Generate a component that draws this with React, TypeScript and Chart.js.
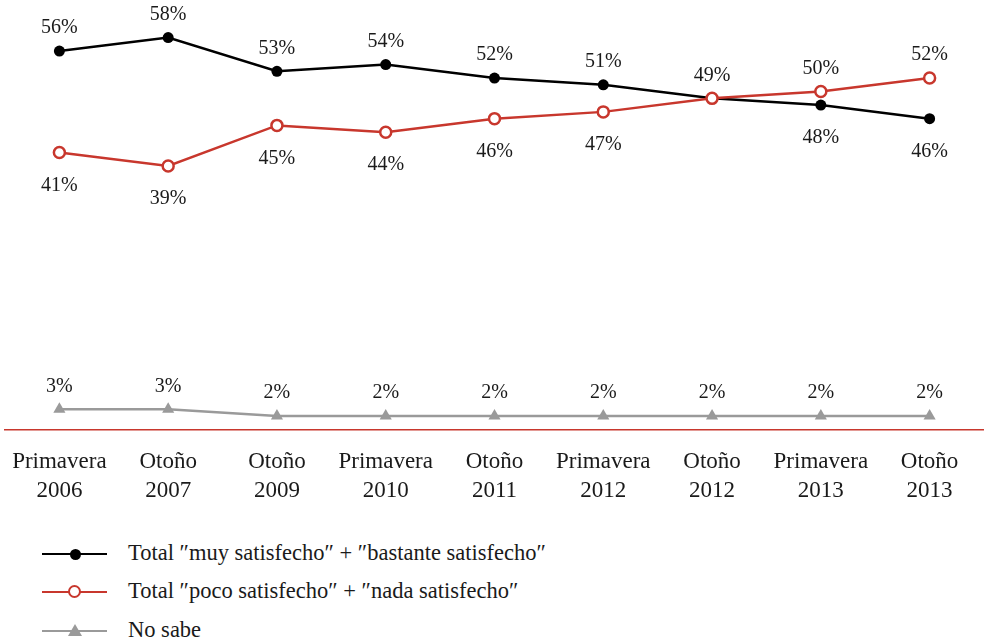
import React, { useEffect, useRef } from "react";
import { Chart, registerables } from "chart.js";

Chart.register(...registerables);

const categories: string[][] = [
  ["Primavera", "2006"],
  ["Otoño", "2007"],
  ["Otoño", "2009"],
  ["Primavera", "2010"],
  ["Otoño", "2011"],
  ["Primavera", "2012"],
  ["Otoño", "2012"],
  ["Primavera", "2013"],
  ["Otoño", "2013"],
];
const satisfied = [56, 58, 53, 54, 52, 51, 49, 48, 46];
const unsatisfied = [41, 39, 45, 44, 46, 47, 49, 50, 52];
const dontKnow = [3, 3, 2, 2, 2, 2, 2, 2, 2];

const seriesNames = [
  "Total ″muy satisfecho″ + ″bastante satisfecho″",
  "Total ″poco satisfecho″ + ″nada satisfecho″",
  "No sabe",
];

// label placement: a = above, b = below, n = none
const satisfiedPlace = ["a", "a", "a", "a", "a", "a", "n", "b", "b"];
const unsatisfiedPlace = ["b", "b", "b", "b", "b", "b", "a", "a", "a"];
const dontKnowPlace = ["a", "a", "a", "a", "a", "a", "a", "a", "a"];

const FONT = "'Liberation Serif', 'DejaVu Serif', serif";
const BLACK = "#000000";
const RED = "#c8372d";
const GREY = "#9a9a9a";
const TEXT = "#1a1a1a";

const labelPlugin = {
  id: "pointLabels",
  afterDatasetsDraw(chart: any) {
    const ctx = chart.ctx;
    ctx.save();
    ctx.font = `20px ${FONT}`;
    ctx.fillStyle = TEXT;
    ctx.textAlign = "center";
    ctx.textBaseline = "middle";
    chart.data.datasets.forEach((ds: any, di: number) => {
      const meta = chart.getDatasetMeta(di);
      const places: string[] = ds.labelPlaces;
      meta.data.forEach((pt: any, i: number) => {
        const p = places[i];
        if (p === "n") return;
        const dy = p === "a" ? -23 : 33;
        ctx.fillText(`${ds.data[i]}%`, pt.x, pt.y + dy);
      });
    });
    ctx.restore();
  },
};

function LegendRow({ kind, text, top }: { kind: string; text: string; top: number }) {
  const color = kind === "black" ? BLACK : kind === "red" ? RED : GREY;
  let marker: React.ReactNode;
  if (kind === "black") {
    marker = (
      <div style={{ position: "absolute", left: 69.5, top: -5.5, width: 11, height: 11, borderRadius: 6, background: BLACK }} />
    );
  } else if (kind === "red") {
    marker = (
      <div
        style={{
          position: "absolute",
          left: 68,
          top: -7,
          width: 9,
          height: 9,
          borderRadius: 7,
          background: "#fff",
          border: `2.5px solid ${RED}`,
        }}
      />
    );
  } else {
    marker = (
      <div
        style={{
          position: "absolute",
          left: 68,
          top: -7,
          width: 0,
          height: 0,
          borderLeft: "7px solid transparent",
          borderRight: "7px solid transparent",
          borderBottom: `12px solid ${GREY}`,
        }}
      />
    );
  }
  return (
    <div style={{ position: "absolute", left: 0, top, width: 984, height: 0 }}>
      <div style={{ position: "absolute", left: 42, top: -1.25, width: 65, height: 2.5, background: color }} />
      {marker}
      <div
        style={{
          position: "absolute",
          left: 128,
          top: -16,
          height: 30,
          lineHeight: "30px",
          fontFamily: FONT,
          fontSize: 22.5,
          color: TEXT,
          whiteSpace: "nowrap",
        }}
      >
        {text}
      </div>
    </div>
  );
}

export default function App() {
  const ref = useRef<HTMLCanvasElement | null>(null);

  useEffect(() => {
    document.body.style.margin = "0";
    const chart = new Chart(ref.current!, {
      type: "line",
      data: {
        labels: categories,
        datasets: [
          {
            label: seriesNames[0],
            data: satisfied,
            borderColor: BLACK,
            backgroundColor: BLACK,
            borderWidth: 2.5,
            pointRadius: 5.5,
            pointBorderWidth: 0,
            pointStyle: "circle",
            order: 1,
            labelPlaces: satisfiedPlace,
          } as any,
          {
            label: seriesNames[1],
            data: unsatisfied,
            borderColor: RED,
            backgroundColor: "#ffffff",
            pointBackgroundColor: "#ffffff",
            pointBorderColor: RED,
            borderWidth: 2.5,
            pointRadius: 5.5,
            pointBorderWidth: 2.5,
            pointStyle: "circle",
            order: 0,
            labelPlaces: unsatisfiedPlace,
          } as any,
          {
            label: seriesNames[2],
            data: dontKnow,
            borderColor: GREY,
            backgroundColor: GREY,
            borderWidth: 2.5,
            pointRadius: 7,
            pointBorderWidth: 0,
            pointStyle: "triangle",
            order: 2,
            labelPlaces: dontKnowPlace,
          } as any,
        ],
      },
      options: {
        animation: false,
        responsive: false,
        maintainAspectRatio: false,
        layout: { autoPadding: false, padding: { left: 5, right: 0, top: 24, bottom: 4 } },
        plugins: {
          legend: { display: false },
          tooltip: { enabled: false },
        },
        scales: {
          x: {
            offset: true,
            grid: {
              display: true,
              drawOnChartArea: false,
              drawTicks: true,
              tickLength: 7,
              color: "rgba(0,0,0,0)",
            },
            border: { display: true, color: RED, width: 1.5 },
            ticks: {
              color: TEXT,
              padding: 11,
              maxRotation: 0,
              autoSkip: false,
              font: { family: FONT, size: 23, lineHeight: 1.27 },
            },
          },
          y: {
            display: false,
            min: 0,
            max: 60,
          },
        },
      },
      plugins: [labelPlugin],
    });
    return () => chart.destroy();
  }, []);

  return (
    <div style={{ position: "relative", width: 984, height: 644, background: "#fff" }}>
      <canvas ref={ref} width={984} height={521} style={{ position: "absolute", left: 0, top: 0, width: 984, height: 521 }} />
      <LegendRow kind="black" text={seriesNames[0]} top={554} />
      <LegendRow kind="red" text={seriesNames[1]} top={592} />
      <LegendRow kind="grey" text={seriesNames[2]} top={631} />
    </div>
  );
}
